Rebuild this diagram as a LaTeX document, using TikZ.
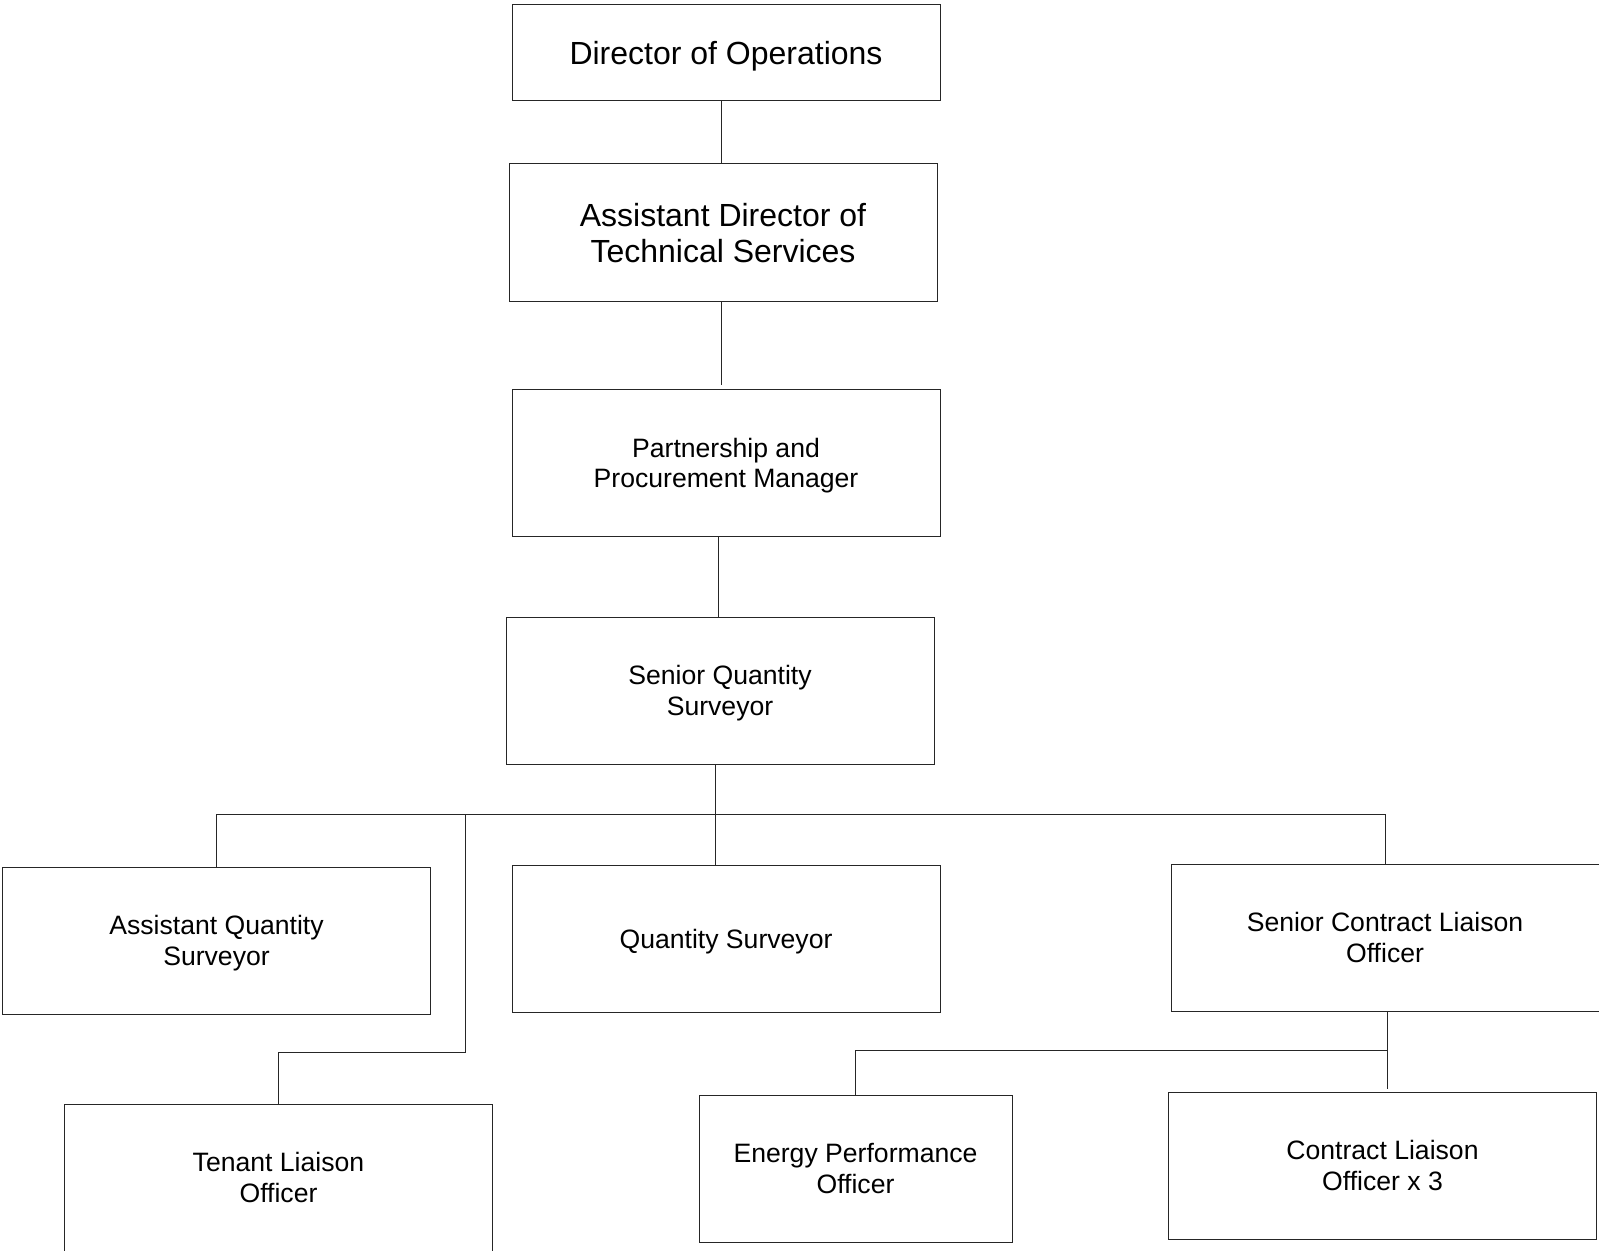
\documentclass[tikz,border=0pt]{standalone}
\usepackage{fontspec}
\setmainfont{Liberation Sans}
\usepackage{tikz}

\begin{document}
\begin{tikzpicture}[x=0.5pt,y=-0.5pt,
        post/.style={draw=black!85, line width=0.5pt, align=center,
            minimum width=214pt, minimum height=73.5pt, inner sep=0pt,
            text depth=0pt, font=\fontsize{13.3}{15.2}\selectfont},
        bigpost/.style={post, font=\fontsize{16}{18.2}\selectfont},
        link/.style={draw=black!85, line width=0.5pt}]
        \useasboundingbox (0,0) rectangle (1599,1251);
        % top of the chart
        \node[bigpost, minimum height=48pt] (dir) at (726,53) {Director of Operations};
        \node[bigpost, minimum height=69pt] (adts) at (723,233) {Assistant Director of\\Technical Services};
        \node[post] (ppm) at (726,463) {Partnership and\\Procurement Manager};
        \node[post] (sqs) at (720,690.5) {Senior Quantity\\Surveyor};
        % second row
        \node[post] (aqs) at (216.5,940.5) {Assistant Quantity\\Surveyor};
        \node[post] (qs) at (726,938.5) {Quantity Surveyor};
        \node[post] (sclo) at (1385,937.5) {Senior Contract Liaison\\Officer};
        % third row
        \node[post] (tlo) at (278.5,1177.5) {Tenant Liaison\\Officer};
        \node[post, minimum width=156.5pt] (epo) at (855.5,1168.5) {Energy Performance\\Officer};
        \node[post] (clo) at (1382.5,1165.5) {Contract Liaison\\Officer x 3};
        % junctions
        \coordinate (bus) at (715,814);
        \coordinate (tbend) at (465,1052);
        \coordinate (cbus) at (1387,1050);
        % connectors
        \draw[link] (dir.south -| 721,0) -- (adts.north -| 721,0);
        \draw[link] (adts.south -| 721,0) -- ([yshift=2pt]ppm.north -| 721,0);
        \draw[link] (ppm.south -| 718,0) -- (sqs.north -| 718,0);
        \draw[link] (sqs.south -| bus) -- (bus);
        \draw[link] (aqs.north) -- (aqs.north |- bus) -- (sclo.north |- bus) -- (sclo.north);
        \draw[link] (bus) -- (bus |- qs.north);
        \draw[link] (tbend |- bus) -- (tbend) -- (tlo.north |- tbend) -- (tlo.north);
        \draw[link] (sclo.south -| cbus) -- ([yshift=1.5pt]clo.north -| cbus);
        \draw[link] (cbus) -- (epo.north |- cbus) -- (epo.north);
\end{tikzpicture}
\end{document}
